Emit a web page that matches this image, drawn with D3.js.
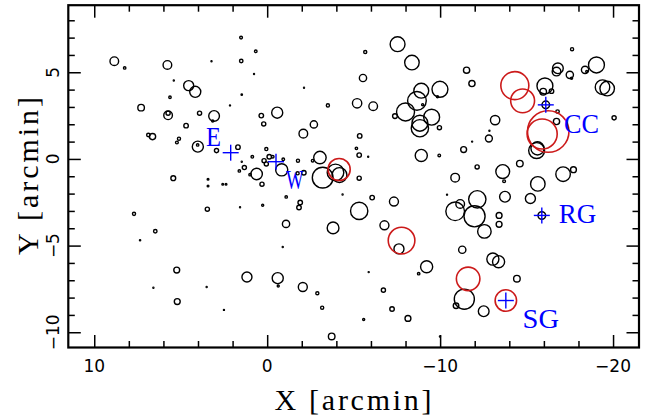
<!DOCTYPE html>
<html><head><meta charset="utf-8">
<script src="https://cdn.jsdelivr.net/npm/d3@7"></script>
<style>body{margin:0;background:#fff}svg{display:block}</style>
</head><body>
<script>
// Sources (arcmin): X, Y, radius
const srcX = [8.84,8.24,5.77,4.54,4.16,5.40,5.62,7.29,5.73,5.73,3.91,3.07,3.15,4.69,6.87,6.63,5.10,5.22,4.01,4.02,2.93,1.69,5.43,1.51,0.66,3.22,1.50,0.76,1.47,2.15,0.34,-0.58,0.20,-2.13,-3.51,-2.70,-2.09,0.05,0.86,1.47,0.18,-0.12,0.05,-0.32,-0.93,-0.84,-1.78,-2.63,-3.05,-3.21,-3.95,-4.18,-1.76,-2.12,1.32,1.61,0.99,0.61,0.30,3.42,3.42,2.57,2.38,-1.10,-1.91,-1.84,0.26,1.57,3.46,-1.09,-3.81,6.47,-4.36,7.70,7.35,-0.90,5.23,1.17,-0.61,-0.64,-2.06,-2.90,6.58,3.50,5.20,2.50,-3.18,-3.73,
-7.54,-5.67,-8.37,-5.54,-11.53,-11.84,-5.20,-6.13,-8.91,-9.99,-9.85,-8.66,-8.99,-8.00,-7.39,-9.51,-8.83,-8.83,-9.96,-13.18,-12.82,-5.35,-5.16,-5.32,-5.84,-8.91,-9.95,-11.36,-11.85,-12.14,-13.62,-13.70,-14.61,-12.85,-17.63,-16.81,-16.73,-17.50,-17.60,-18.38,-18.48,-19.04,-19.39,-19.66,-20.06,-16.06,-15.96,-16.44,-16.79,-16.73,-15.58,-15.63,-17.11,-17.71,-15.65,-13.75,-15.22,-10.87,-10.40,-12.15,-5.32,-6.07,-7.33,-5.32,-6.78,-7.62,-9.22,-8.76,-5.87,-6.72,-7.22,-8.14,-5.58,-9.99,-11.16,-10.87,-11.99,-12.56,-13.41,-13.41,-11.28,-13.05,-13.38,-14.44,-11.40,-10.92,-12.52];
const srcY = [5.64,5.25,5.42,4.23,3.87,4.52,3.56,2.96,2.52,2.64,2.64,2.48,2.19,1.92,1.38,1.29,1.17,0.95,0.71,0.81,0.48,0.68,-1.11,7.00,6.21,5.64,5.65,4.90,3.71,3.09,2.50,2.67,2.02,4.11,3.09,1.99,1.46,0.57,0.12,-0.16,-0.10,0.13,-0.29,0.13,-0.02,-0.63,-0.10,-0.10,0.08,-1.08,-0.78,-0.93,-0.83,-0.80,-0.50,-0.69,-0.91,-0.87,-1.46,-1.17,-1.56,-1.46,-1.46,-2.19,-2.51,-2.80,-2.67,-2.79,-2.90,-3.75,-3.98,-4.17,-2.05,-3.17,-4.69,-5.08,-6.41,-6.81,-6.88,-7.33,-7.39,-7.75,-7.43,-7.39,-8.23,-8.71,-8.58,-10.24,
6.62,6.17,5.56,4.67,5.12,4.35,3.21,3.04,3.94,4.02,3.59,3.35,3.13,2.71,2.47,2.41,2.06,1.77,1.80,2.24,1.18,1.33,0.61,0.22,0.13,0.20,0.20,0.54,1.00,-0.46,-0.73,-1.29,-0.27,1.63,6.33,5.23,5.04,4.85,4.66,5.14,5.04,5.42,4.14,4.06,2.37,4.21,3.88,3.91,2.73,2.16,0.48,0.61,-0.88,-0.62,-1.44,-2.18,-2.28,-1.08,-2.06,-2.33,-1.11,-2.23,-2.46,-3.00,-3.83,-5.19,-6.22,-6.62,-6.53,-7.57,-8.66,-9.20,-9.27,-10.25,-2.60,-3.02,-3.31,-4.18,-3.26,-3.77,-5.24,-5.78,-5.93,-6.91,-8.09,-8.47,-8.79];
const srcR = [0.25,0.07,0.25,0.29,0.32,0.03,0.07,0.19,0.25,0.12,0.12,0.31,0.06,0.13,0.10,0.18,0.09,0.08,0.32,0.07,0.12,0.13,0.14,0.08,0.075,0.03,0.10,0.025,0.04,0.03,0.13,0.32,0.12,0.025,0.09,0.21,0.25,0.09,0.075,0.03,0.12,0.13,0.12,0.075,0.075,0.35,0.09,0.075,0.36,0.60,0.48,0.43,0.09,0.13,0.12,0.07,0.07,0.33,0.12,0.05,0.05,0.05,0.05,0.07,0.13,0.13,0.06,0.03,0.12,0.21,0.34,0.10,0.03,0.09,0.035,0.03,0.17,0.29,0.32,0.06,0.26,0.09,0.03,0.03,0.17,0.03,0.09,0.19,
0.43,0.09,0.42,0.21,0.18,0.18,0.27,0.25,0.43,0.46,0.06,0.54,0.06,0.52,0.14,0.46,0.46,0.50,0.12,0.27,0.20,0.13,0.07,0.13,0.03,0.35,0.075,0.17,0.03,0.12,0.40,0.08,0.19,0.03,0.09,0.31,0.25,0.21,0.06,0.21,0.06,0.46,0.42,0.42,0.12,0.46,0.19,0.13,0.10,0.18,0.46,0.38,0.42,0.17,0.42,0.31,0.29,0.25,0.03,0.50,0.12,0.13,0.26,0.50,0.26,0.29,0.35,0.07,0.03,0.12,0.13,0.17,0.06,0.03,0.25,0.54,0.61,0.39,0.17,0.17,0.21,0.35,0.35,0.19,0.58,0.16,0.31];

// Highlighted (red) sources
const redX = [-4.16,-14.32,-14.77,-15.90,-16.25,-7.77,-11.62,-13.80];
const redY = [-0.61,4.23,3.35,1.44,1.58,-4.71,-6.92,-8.17];
const redR = [0.64,0.81,0.69,0.87,1.20,0.77,0.68,0.62];

// Named positions
const markNames = ["E","W","CC","RG","SG"];
const markX = [2.11,-0.51,-16.11,-15.88,-13.80];
const markY = [0.36,-0.16,3.12,-3.26,-8.17];
const markRing = [false,false,true,true,false];
const labelX = [3.10,-1.59,-17.17,-16.86,-14.77];
const labelY = [0.75,-1.73,1.52,-3.72,-9.75];
const labelAnchor = ["middle","middle","start","start","start"];
const labelLen = [15,17.5,35,37.5,36.5];

// Axes
const xMajor = [10,0,-10,-20];
const xMinor = d3.range(10,-21,-2);
const yMajor = [5,0,-5,-10];
const yMinor = d3.range(-10,9,1);
const xLabels = ["10","0","\u221210","\u221220"];
const yLabels = ["5","0","\u22125","\u221210"];

const W = 657, H = 419;
const L = 68.3, R = 639, T = 5.2, B = 347.5;
const x = d3.scaleLinear().domain([11.5,-21.5]).range([L,R]);
const y = d3.scaleLinear().domain([-10.88,8.87]).range([B,T]);
const rs = d3.scaleLinear().domain([0,1]).range([0,(R-L)/33]);

const svg = d3.select("body").append("svg").attr("width",W).attr("height",H);

// sources
const src = srcX.map((v,i)=>({x:v,y:srcY[i],r:srcR[i]}));
svg.append("g").selectAll("circle").data(src).join("circle")
  .attr("cx",d=>x(d.x)).attr("cy",d=>y(d.y)).attr("r",d=>Math.max(rs(d.r),0.5))
  .attr("fill","none").attr("stroke","#000").attr("stroke-width",1.4);

const red = redX.map((v,i)=>({x:v,y:redY[i],r:redR[i]}));
svg.append("g").selectAll("circle").data(red).join("circle")
  .attr("cx",d=>x(d.x)).attr("cy",d=>y(d.y)).attr("r",d=>rs(d.r))
  .attr("fill","none").attr("stroke","#cc1a1a").attr("stroke-width",1.6);

// markers
const marks = markNames.map((n,i)=>({n,x:markX[i],y:markY[i],ring:markRing[i],lx:labelX[i],ly:labelY[i],a:labelAnchor[i],len:labelLen[i]}));
const mg = svg.append("g");
marks.forEach(m=>{
  const cx = x(m.x), cy = y(m.y), h = 8;
  if(m.ring) mg.append("circle").attr("cx",cx).attr("cy",cy).attr("r",3.8).attr("fill","none").attr("stroke","#000").attr("stroke-width",1.5);
  mg.append("line").attr("x1",cx-h).attr("x2",cx+h).attr("y1",cy).attr("y2",cy).attr("stroke","#0000ff").attr("stroke-width",1.4);
  mg.append("line").attr("x1",cx).attr("x2",cx).attr("y1",cy-h).attr("y2",cy+h).attr("stroke","#0000ff").attr("stroke-width",1.4);
  mg.append("text").attr("x",x(m.lx)).attr("y",y(m.ly)).attr("text-anchor",m.a)
    .attr("font-family","Liberation Serif, serif").attr("font-size",28).attr("fill","#0000ff")
    .attr("textLength",m.len).attr("lengthAdjust","spacingAndGlyphs").text(m.n);
});

// axes ticks (inward) using d3 axes
function ticks(axisFn, scale, vals, size, transform){
  const g = svg.append("g").attr("transform",transform)
    .call(axisFn(scale).tickValues(vals).tickSize(size).tickFormat(""));
  g.select(".domain").remove();
  g.selectAll("line").attr("stroke","#000").attr("stroke-width",1.5);
}
ticks(d3.axisBottom, x, xMajor, -12.5, `translate(0,${B})`);
ticks(d3.axisBottom, x, xMinor.filter(v=>!xMajor.includes(v)), -6.5, `translate(0,${B})`);
ticks(d3.axisTop, x, xMajor, -12.5, `translate(0,${T})`);
ticks(d3.axisTop, x, xMinor.filter(v=>!xMajor.includes(v)), -6.5, `translate(0,${T})`);
ticks(d3.axisLeft, y, yMajor, -12.5, `translate(${L},0)`);
ticks(d3.axisLeft, y, yMinor.filter(v=>!yMajor.includes(v)), -6.5, `translate(${L},0)`);
ticks(d3.axisRight, y, yMajor, -12.5, `translate(${R},0)`);
ticks(d3.axisRight, y, yMinor.filter(v=>!yMajor.includes(v)), -6.5, `translate(${R},0)`);

// frame
svg.append("rect").attr("x",L).attr("y",T).attr("width",R-L).attr("height",B-T)
  .attr("fill","none").attr("stroke","#000").attr("stroke-width",2.2);

// tick labels
svg.append("g").selectAll("text").data(xMajor).join("text")
  .attr("x",d=>x(d)).attr("y",372).attr("text-anchor","middle")
  .attr("font-family","DejaVu Sans, sans-serif").attr("font-size",17).attr("fill","#000")
  .text((d,i)=>xLabels[i]);
svg.append("g").selectAll("text").data(yMajor).join("text")
  .attr("transform",d=>`translate(58.5,${y(d)}) rotate(-90)`).attr("text-anchor","middle")
  .attr("font-family","DejaVu Sans, sans-serif").attr("font-size",17).attr("fill","#000")
  .text((d,i)=>yLabels[i]);

// axis titles
svg.append("text").attr("x",353).attr("y",410).attr("text-anchor","middle")
  .attr("font-family","Liberation Serif, serif").attr("font-size",30).attr("fill","#000")
  .attr("textLength",157).attr("lengthAdjust","spacing").text("X [arcmin]");
svg.append("text").attr("transform","translate(37.5,176) rotate(-90)").attr("text-anchor","middle")
  .attr("font-family","Liberation Serif, serif").attr("font-size",30).attr("fill","#000")
  .attr("textLength",158).attr("lengthAdjust","spacing").text("Y [arcmin]");
</script>
</body></html>
